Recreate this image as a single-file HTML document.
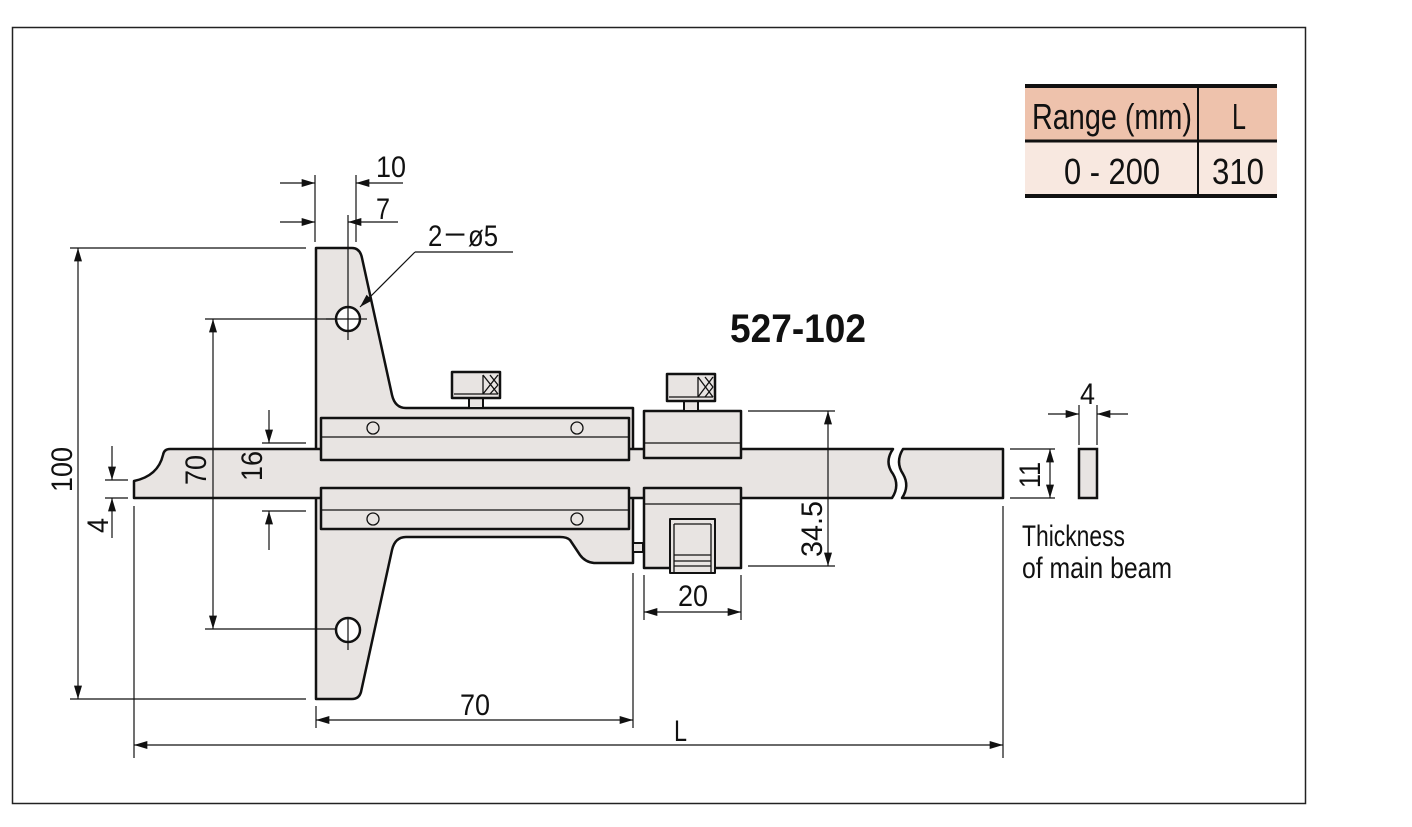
<!DOCTYPE html>
<html><head><meta charset="utf-8"><style>
html,body{margin:0;padding:0;background:#fff;}
svg{display:block;}
text{font-family:"Liberation Sans Narrow","Liberation Sans",sans-serif;fill:#111;}
</style></head><body>
<svg width="1412" height="827" viewBox="0 0 1412 827" xmlns="http://www.w3.org/2000/svg">
<defs>
<marker id="a" viewBox="0 0 10 6" refX="10" refY="3" markerWidth="16" markerHeight="8" markerUnits="userSpaceOnUse" orient="auto-start-reverse"><path d="M0,0 L10,3 L0,6 z" fill="#111"/></marker>
</defs>
<rect x="12.5" y="27.5" width="1293" height="776" fill="#fff" stroke="#222" stroke-width="1.5"/>

<!-- table -->
<rect x="1025" y="86" width="252" height="55" fill="#eec2ac"/>
<rect x="1025" y="141" width="252" height="55" fill="#f8e8e0"/>
<line x1="1025" y1="86" x2="1277" y2="86" stroke="#111" stroke-width="4"/>
<line x1="1025" y1="141" x2="1277" y2="141" stroke="#111" stroke-width="3"/>
<line x1="1025" y1="196" x2="1277" y2="196" stroke="#111" stroke-width="4"/>
<line x1="1198" y1="86" x2="1198" y2="196" stroke="#111" stroke-width="2"/>
<g font-size="36" lengthAdjust="spacingAndGlyphs">
<text x="1032" y="129" textLength="160" lengthAdjust="spacingAndGlyphs">Range (mm)</text>
<text x="1232" y="129" textLength="14" lengthAdjust="spacingAndGlyphs">L</text>
<text x="1064" y="184" textLength="96" lengthAdjust="spacingAndGlyphs">0 - 200</text>
<text x="1212" y="184" textLength="52" lengthAdjust="spacingAndGlyphs">310</text>
</g>

<g fill="#e8e4e2" stroke="#111" stroke-width="2.5" stroke-linejoin="round">
<path d="M316,248 L352,248 Q360,248 362,258 L392,395 Q395,408 406,408 L633,408 L633,452 L316,452 Z"/>
<path d="M316,495 L633,495 L633,563 L594,563 Q585,562 580,555 L570,540 Q567,537 560,537 L406,537 Q395,537 392,550 L361,692 Q359,699 352,699 L316,699 Z"/>
<path d="M134,498 L134,481 Q158,476 163,455 Q164,449 170,449 L893,449 Q884,462 893,474 Q900,486 892,498 Z"/>
<path d="M903,449 L1003,449 L1003,498 L902,498 Q910,486 903,474 Q895,462 903,449 Z"/>
<rect x="321" y="418" width="308" height="42"/>
<rect x="321" y="488" width="308" height="41"/>
<rect x="633" y="543" width="10" height="9" stroke-width="2"/>
<rect x="644" y="411" width="97" height="47"/>
<rect x="644" y="488" width="97" height="80"/>
<rect x="670" y="519" width="45" height="54" stroke-width="2"/>
<rect x="469" y="397" width="14" height="11" stroke-width="2"/>
<rect x="452" y="372" width="48" height="26"/>
<rect x="684" y="400" width="14" height="11" stroke-width="2"/>
<rect x="667" y="374" width="48" height="27"/>
</g>
<g stroke="#111" stroke-width="1.3" fill="none">
<line x1="321" y1="437" x2="629" y2="437"/>
<line x1="321" y1="510" x2="629" y2="510"/>
<line x1="644" y1="443" x2="741" y2="443"/>
<line x1="644" y1="504" x2="741" y2="504"/>
<line x1="674" y1="524" x2="711" y2="524"/>
<line x1="674" y1="524" x2="674" y2="573"/><line x1="711" y1="524" x2="711" y2="573"/>
<line x1="674" y1="555" x2="711" y2="555"/><line x1="674" y1="561" x2="711" y2="561"/><line x1="674" y1="566" x2="711" y2="566"/>
<line x1="454" y1="394" x2="498" y2="394"/><line x1="669" y1="397" x2="713" y2="397"/>
<path d="M483,375 L498,394 M490,375 L498,385 M483,394 L498,375 M490,394 L498,385 M483,375 L483,394"/>
<path d="M698,377 L713,397 M705,377 L713,387 M698,397 L713,377 M705,397 L713,387 M698,377 L698,397"/>
<circle cx="373" cy="428" r="6"/><circle cx="577" cy="428" r="6"/>
<circle cx="373" cy="519" r="6"/><circle cx="577" cy="519" r="6"/>
</g>
<g fill="#fff" stroke="#111" stroke-width="2.5">
<circle cx="348" cy="319" r="12"/>
<circle cx="348" cy="630" r="12"/>
</g>
<rect x="1079" y="449" width="18" height="49" fill="#e8e4e2" stroke="#111" stroke-width="2.5"/>

<g stroke="#111" stroke-width="1.2" fill="none">
<line x1="315" y1="175" x2="315" y2="242"/><line x1="356" y1="175" x2="356" y2="242"/>
<line x1="348" y1="215" x2="348" y2="340"/><line x1="326" y1="319" x2="367" y2="319"/>
<line x1="348" y1="619" x2="348" y2="650"/>
<line x1="280" y1="183" x2="315" y2="183" marker-end="url(#a)"/><line x1="403" y1="183" x2="356" y2="183" marker-end="url(#a)"/>
<line x1="280" y1="222" x2="315" y2="222" marker-end="url(#a)"/><line x1="398" y1="222" x2="348" y2="222" marker-end="url(#a)"/>
<line x1="513" y1="252" x2="415" y2="252"/><line x1="415" y1="252" x2="360" y2="307" marker-end="url(#a)"/>
<line x1="70" y1="248" x2="306" y2="248"/><line x1="70" y1="699" x2="306" y2="699"/>
<line x1="78" y1="248" x2="78" y2="699" marker-start="url(#a)" marker-end="url(#a)"/>
<line x1="205" y1="319" x2="336" y2="319"/><line x1="205" y1="629" x2="336" y2="629"/>
<line x1="213" y1="319" x2="213" y2="629" marker-start="url(#a)" marker-end="url(#a)"/>
<line x1="262" y1="443" x2="306" y2="443"/><line x1="262" y1="511" x2="306" y2="511"/>
<line x1="269" y1="410" x2="269" y2="443" marker-end="url(#a)"/><line x1="269" y1="550" x2="269" y2="511" marker-end="url(#a)"/>
<line x1="105" y1="480" x2="128" y2="480"/><line x1="105" y1="498" x2="128" y2="498"/>
<line x1="112" y1="446" x2="112" y2="480" marker-end="url(#a)"/><line x1="112" y1="538" x2="112" y2="498" marker-end="url(#a)"/>
<line x1="134" y1="506" x2="134" y2="758"/><line x1="1003" y1="506" x2="1003" y2="758"/>
<line x1="134" y1="745" x2="1003" y2="745" marker-start="url(#a)" marker-end="url(#a)"/>
<line x1="316" y1="706" x2="316" y2="728"/><line x1="633" y1="573" x2="633" y2="728"/>
<line x1="316" y1="720" x2="633" y2="720" marker-start="url(#a)" marker-end="url(#a)"/>
<line x1="644" y1="575" x2="644" y2="620"/><line x1="741" y1="575" x2="741" y2="620"/>
<line x1="644" y1="612" x2="741" y2="612" marker-start="url(#a)" marker-end="url(#a)"/>
<line x1="748" y1="411" x2="835" y2="411"/><line x1="748" y1="566" x2="835" y2="566"/>
<line x1="828" y1="411" x2="828" y2="566" marker-start="url(#a)" marker-end="url(#a)"/>
<line x1="1010" y1="449" x2="1055" y2="449"/><line x1="1010" y1="498" x2="1055" y2="498"/>
<line x1="1050" y1="449" x2="1050" y2="498" marker-start="url(#a)" marker-end="url(#a)"/>
<line x1="1079" y1="405" x2="1079" y2="445"/><line x1="1097" y1="405" x2="1097" y2="445"/>
<line x1="1048" y1="414" x2="1079" y2="414" marker-end="url(#a)"/><line x1="1128" y1="414" x2="1097" y2="414" marker-end="url(#a)"/>
</g>

<g font-size="30">
<text x="376" y="177" textLength="30" lengthAdjust="spacingAndGlyphs">10</text>
<text x="376" y="219" textLength="14" lengthAdjust="spacingAndGlyphs">7</text>
<text x="428" y="246" textLength="70" lengthAdjust="spacingAndGlyphs">2－ø5</text>
<text x="460" y="715" textLength="30" lengthAdjust="spacingAndGlyphs">70</text>
<text x="674" y="741" textLength="13" lengthAdjust="spacingAndGlyphs">L</text>
<text x="678" y="606" textLength="30" lengthAdjust="spacingAndGlyphs">20</text>
<text x="1080" y="404" textLength="15" lengthAdjust="spacingAndGlyphs">4</text>
<text transform="translate(72,492) rotate(-90)" textLength="45" lengthAdjust="spacingAndGlyphs">100</text>
<text transform="translate(206,485) rotate(-90)" textLength="30" lengthAdjust="spacingAndGlyphs">70</text>
<text transform="translate(262,481) rotate(-90)" textLength="30" lengthAdjust="spacingAndGlyphs">16</text>
<text transform="translate(108,533) rotate(-90)" textLength="15" lengthAdjust="spacingAndGlyphs">4</text>
<text transform="translate(822,557) rotate(-90)" textLength="56" lengthAdjust="spacingAndGlyphs">34.5</text>
<text transform="translate(1040,488) rotate(-90)" textLength="26" lengthAdjust="spacingAndGlyphs">11</text>
<text x="1022" y="546" textLength="103" lengthAdjust="spacingAndGlyphs">Thickness</text>
<text x="1022" y="578" textLength="150" lengthAdjust="spacingAndGlyphs">of main beam</text>
</g>
<text x="730" y="342" font-size="40" font-weight="bold" textLength="136" lengthAdjust="spacingAndGlyphs">527-102</text>
</svg>
</body></html>
